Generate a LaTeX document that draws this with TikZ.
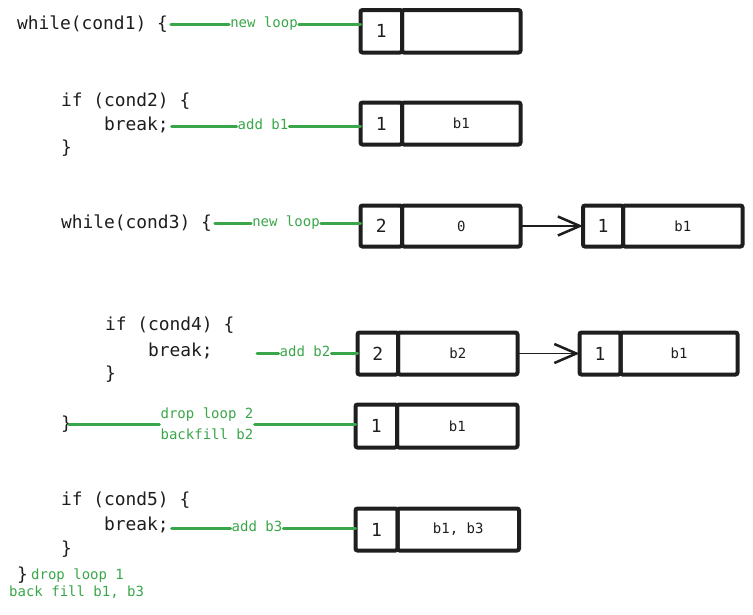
\documentclass[tikz,border=0pt]{standalone}
\usepackage{fontspec}
\setmonofont{DejaVu Sans Mono}
\usetikzlibrary{arrows.meta}
\definecolor{ink}{HTML}{1E1E1E}
\definecolor{note}{HTML}{3AA64A}
\tikzset{
  code/.style={anchor=west, inner sep=0pt, outer sep=3pt, text=ink,
    font=\ttfamily\fontsize{17.9}{20}\selectfont, text height=0.76em, text depth=0.13em},
  notetext/.style={inner sep=1pt, text=note, align=left,
    font=\ttfamily\fontsize{14}{21}\selectfont, text height=0.76em, text depth=0.13em},
  gline/.style={draw=note, line width=3pt, line cap=round},
  cell/.style={draw=ink, line width=4pt, rounded corners=2pt, inner sep=0pt,
    outer sep=0pt, text=ink},
  idcell/.style={cell, font=\ttfamily\fontsize{18}{20}\selectfont},
  valcell/.style={cell, anchor=west, font=\ttfamily\fontsize{14}{16}\selectfont},
  link/.style={draw=ink, line width=2.5pt, -{Straight Barb[length=22pt,width=19pt,line width=2.5pt]}},
}
\begin{document}
\begin{tikzpicture}[x=1pt,y=-1pt]
\useasboundingbox (0,0) rectangle (753,614);

% source listing
\node[code] (w1)  at (14,26)  {while(cond1) \{};
\node[code] (if2) at (58,103) {if (cond2) \{};
\node[code] (br2) at (101,127) {break;};
\node[code] (cl2) at (58,150) {\}};
\node[code] (w3)  at (58,225) {while(cond3) \{};
\node[code] (if4) at (102,327) {if (cond4) \{};
\node[code] (br4) at (145,353) {break;};
\node[code] (cl4) at (102,376) {\}};
\node[code] (cl3) at (58,426) {\}};
\node[code] (if5) at (58,502) {if (cond5) \{};
\node[code] (br5) at (101,527) {break;};
\node[code] (cl5) at (58,551) {\}};
\node[code] (cl1) at (14,577) {\}};

% loop stack states: id cell, then the value cell attached to its right
\node[idcell, minimum width=41.5pt, minimum height=42.5pt] (s1a) at (381.25,31.25) {1};
\node[valcell, minimum width=118.5pt, minimum height=42.5pt] (s1b) at (s1a.east) {};

\node[idcell, minimum width=41.5pt, minimum height=42pt] (s2a) at (381.25,123.5) {1};
\node[valcell, minimum width=118.5pt, minimum height=42pt] (s2b) at (s2a.east) {b1};

\node[idcell, minimum width=41.5pt, minimum height=41pt] (s3a) at (381.25,226) {2};
\node[valcell, minimum width=118.5pt, minimum height=41pt] (s3b) at (s3a.east) {0};
\node[idcell, minimum width=40pt, minimum height=41pt] (s4a) at (603,226) {1};
\node[valcell, minimum width=119.5pt, minimum height=41pt] (s4b) at (s4a.east) {b1};

\node[idcell, minimum width=40.5pt, minimum height=42pt] (s5a) at (377.75,353.5) {2};
\node[valcell, minimum width=119.5pt, minimum height=42pt] (s5b) at (s5a.east) {b2};
\node[idcell, minimum width=41pt, minimum height=42pt] (s6a) at (600,353.5) {1};
\node[valcell, minimum width=117pt, minimum height=42pt] (s6b) at (s6a.east) {b1};

\node[idcell, minimum width=41.5pt, minimum height=43pt] (s7a) at (376.25,426) {1};
\node[valcell, minimum width=120.5pt, minimum height=43pt] (s7b) at (s7a.east) {b1};

\node[idcell, minimum width=42pt, minimum height=42pt] (s8a) at (376.5,529.5) {1};
\node[valcell, minimum width=121.5pt, minimum height=42pt] (s8b) at (s8a.east) {b1, b3};

% links between stacked loops
\draw[link] (s3b.east) -- (s4a.west);
\draw[link, line width=1.6pt] (s5b.east) -- (s6a.west);

% annotations
\node[notetext] (n1) at (264,24) {new loop};
\draw[gline] (n1.west -| w1.east) -- (n1.west);
\draw[gline] (n1.east) -- (n1.east -| s1a.west);

\node[notetext] (n2) at (263,126) {add b1};
\draw[gline] (n2.west -| br2.east) -- (n2.west);
\draw[gline] (n2.east) -- (n2.east -| s2a.west);

\node[notetext] (n3) at (286,223) {new loop};
\draw[gline] (n3.west -| w3.east) -- (n3.west);
\draw[gline] (n3.east) -- (n3.east -| s3a.west);

\coordinate (b2start) at (257,353);
\node[notetext] (n4) at (305,353) {add b2};
\draw[gline] (b2start) -- (n4.west);
\draw[gline] (n4.east) -- (n4.east -| s5a.west);

\node[notetext, text height=, text depth=] (n5) at (207,424) {drop loop 2\\backfill b2};
\draw[gline] ([xshift=-6pt]n5.west -| cl3.east) -- (n5.west);
\draw[gline] (n5.east) -- (n5.east -| s7a.west);

\node[notetext] (n6) at (257,528) {add b3};
\draw[gline] (n6.west -| br5.east) -- (n6.west);
\draw[gline] (n6.east) -- (n6.east -| s8a.west);

\node[notetext, anchor=west] (n7) at (30,576) {drop loop 1};
\node[notetext, anchor=west] (n8) at (8,593) {back fill b1, b3};
\end{tikzpicture}
\end{document}
